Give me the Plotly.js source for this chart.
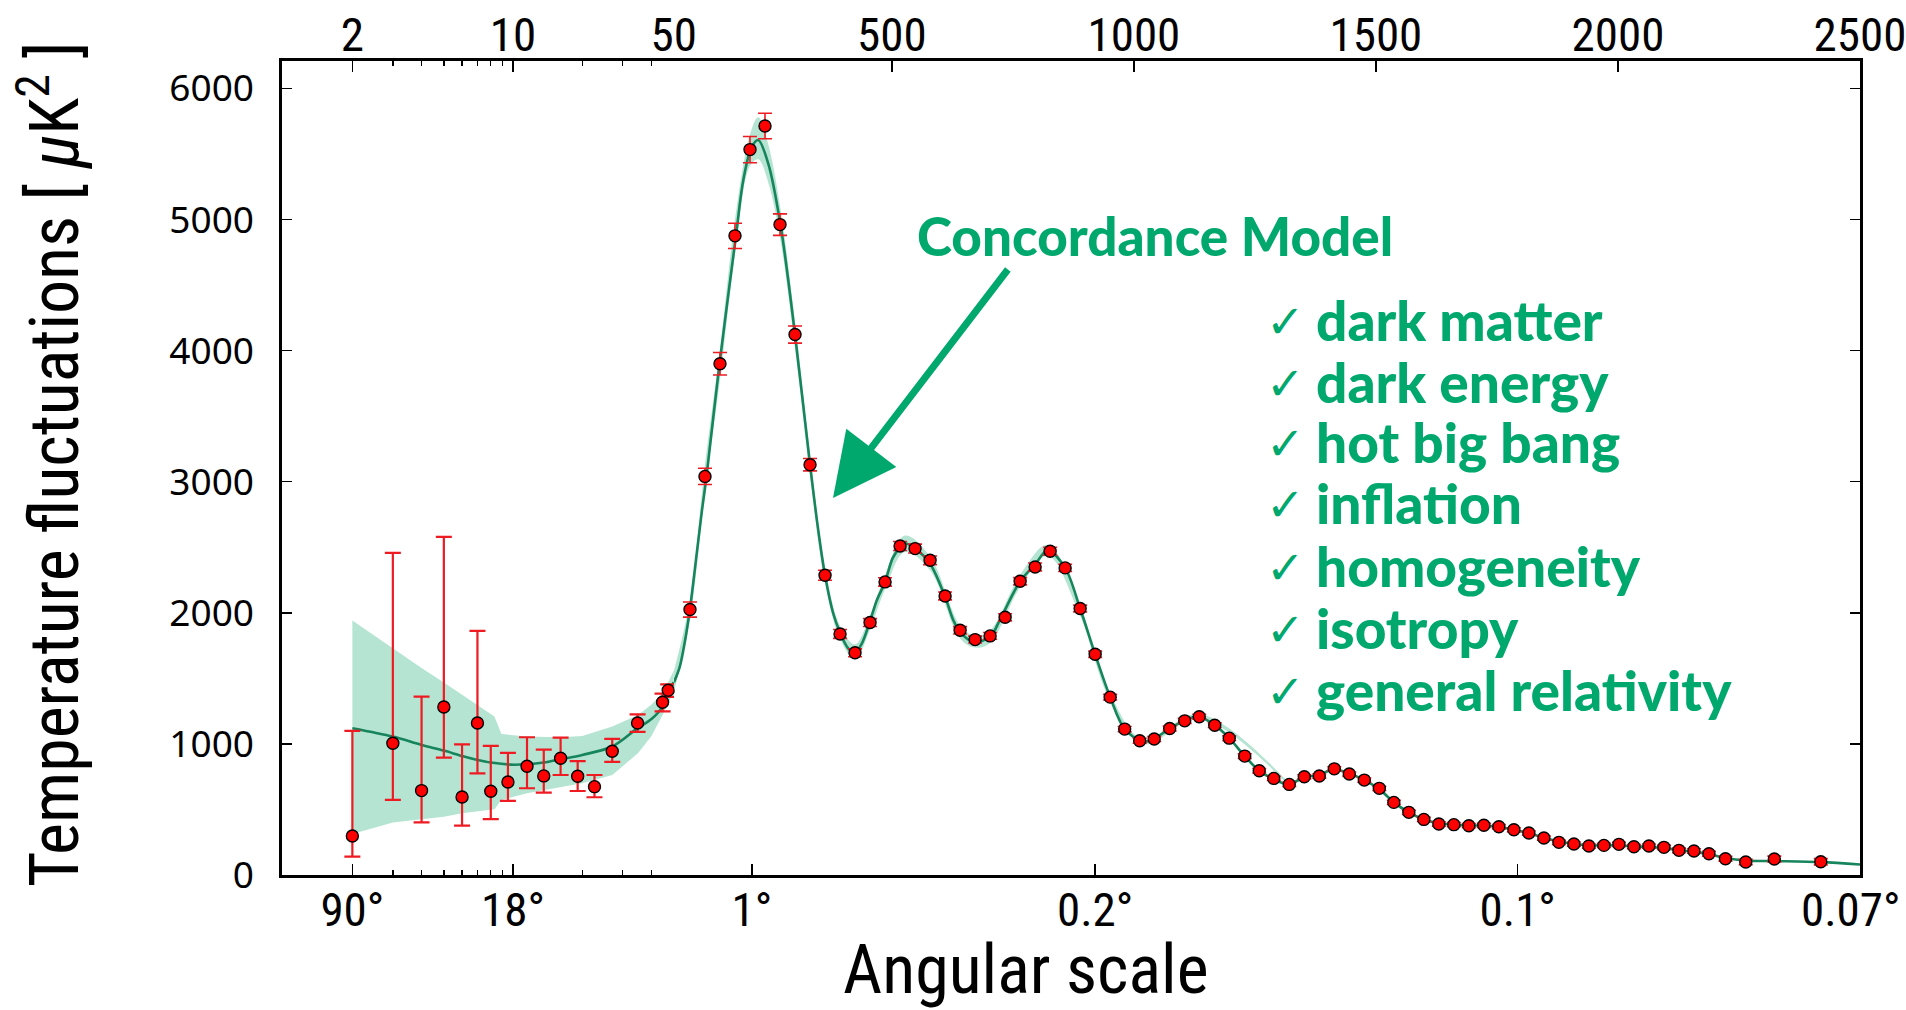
<!DOCTYPE html>
<html>
<head>
<meta charset="utf-8">
<script src="https://cdn.plot.ly/plotly-3.0.1.min.js"></script>
<style>
  html, body { margin: 0; padding: 0; background: #ffffff; }
  #chart { width: 1906px; height: 1010px; }
</style>
</head>
<body>
<div id="chart"></div>
<script>
// ---- Low multipoles (l < 50): measured D_l with asymmetric errors ----
const lowL        = [2, 3, 4, 5, 6, 7, 8, 9.5, 11.5, 13.6, 16.1, 19.1, 22.6, 27, 34.8, 44.7, 47.3];
const lowDl       = [298, 1005, 644, 1282, 595, 1160, 639, 710, 830, 756, 891, 753, 674, 944, 1160, 1318, 1410];
const lowErrUp    = [801, 1453, 717, 1298, 402, 703, 346, 221, 221, 201, 157, 115, 89, 94, 66, 66, 45];
const lowErrDown  = [158, 432, 242, 386, 218, 384, 212, 145, 168, 128, 128, 112, 81, 81, 68, 69, 51];

// ---- High multipoles (binned) ----
const highL = [83,114,145,176,207,238,269,300,331,362,
               393,424,455,486,517,548,579,610,641,672,
               703,734,765,796,827,858,889,920,951,981,
               1012,1042,1074,1105,1135,1167,1197,1229,1259,1289,
               1321,1352,1383,1414,1445,1476,1507,1537,1568,1599,
               1630,1661,1692,1723,1754,1785,1816,1847,1878,1909,
               1940,1971,2002,2033,2064,2095,2126,2157,2188,2222,
               2264,2323,2419];
const highDl = [2025,3041,3900,4876,5534,5714,4962,4123,3130,2287,
                1839,1695,1926,2236,2510,2490,2401,2129,1867,1796,
                1824,1966,2241,2350,2470,2343,2033,1684,1357,1113,
                1024,1037,1118,1176,1207,1143,1044,907,795,737,
                691,749,755,810,770,724,661,554,478,424,
                389,384,376,379,368,345,320,282,249,236,
                221,226,234,216,221,211,188,183,162,124,
                99,122,101];
const highErr = [58,62,86,96,100,97,82,65,47,38,
                 34,30,30,32,34,34,33,30,28,26,
                 26,27,28,30,30,28,26,24,22,20,
                 19,19,19,19,19,18,18,17,17,16,
                 16,16,16,16,16,16,16,16,16,16,
                 16,16,16,16,16,16,16,16,16,16,
                 16,16,16,16,16,16,17,17,18,18,
                 20,22,24];

// ---- Concordance (best-fit) model curve ----
const modelLowL  = [2, 3, 4, 5, 6, 7, 8, 9.8, 11.5, 13.6, 16.1, 20, 27, 34.8, 40, 44.7, 47.3, 50];
const modelLowDl = [1120, 1056, 992, 949, 908, 878, 858, 842, 845, 858, 883, 916, 980, 1120, 1190, 1285, 1400, 1470];
const modelHighL = [50,62,73,83,97,107,117,144,178,193,
                    210,224,245,270,300,331,348,362,379,393,
                    410,424,438,454,469,486,503,527,548,579,
                    610,627,641,668,703,723,765,796,822,858,
                    889,920,951,981,1019,1042,1074,1105,1133,1167,
                    1197,1229,1259,1289,1319,1352,1383,1412,1445,1476,
                    1507,1537,1568,1599,1630,1661,1692,1723,1754,1785,
                    1816,1847,1878,1909,1940,1971,2002,2033,2064,2095,
                    2126,2157,2188,2222,2264,2323,2419,2500];
const modelHighDl = [1470,1590,1791,2030,2454,2759,3036,3900,4876,5297,
                     5551,5607,5424,4962,4123,3130,2630,2287,1995,1850,
                     1728,1700,1766,1926,2096,2236,2426,2528,2490,2375,
                     2122,1944,1855,1778,1816,1944,2241,2370,2477,2343,
                     2033,1684,1357,1113,1016,1040,1118,1180,1209,1143,
                     1044,907,795,730,692,745,765,806,775,724,
                     655,554,478,424,395,384,378,376,366,345,
                     318,285,255,236,226,226,226,218,214,205,
                     190,176,160,130,110,106,98,80];

// ---- Cosmic-variance band around the model ----
const bandLowL  = [2, 3, 4, 5, 6, 7, 8.3, 8.9, 11.5, 16, 20, 27, 35, 40, 45, 50];
const bandLowHi = [1942, 1728, 1580, 1468, 1374, 1293, 1209, 1076, 1056, 1051, 1061, 1132, 1220, 1300, 1390, 1560];
const bandLowLo = [313, 400, 425, 445, 471, 485, 501, 572, 623, 669, 700, 763, 930, 1060, 1230, 1400];
const bandHighL  = [50,83,114,145,176,207,224,245,270,300,331,362,393,424,455,486,527,579,641,672,703,765,822,887,951,1019,1135,1320];
const bandHighHi = [1560,2100,3130,4010,5000,5650,5780,5570,5080,4220,3210,2340,1900,1760,1980,2290,2590,2430,1905,1825,1865,2290,2520,2070,1385,1035,1228,702];
const bandHighLo = [1400,1950,2930,3780,4740,5410,5460,5280,4840,4020,3050,2230,1800,1645,1875,2180,2465,2325,1805,1735,1770,2195,2435,1995,1330,998,1192,683];

// ---- Axis tick labels ----
const lTickVals    = [2, 10, 50];
const lTickText    = ['2', '10', '50'];
const lMinorVals   = [3, 4, 5, 6, 7, 8, 9, 20, 30, 40];
const linTickVals  = [500, 1000, 1500, 2000, 2500];
const linTickText  = ['500', '1000', '1500', '2000', '2500'];
const angLogVals   = [2, 10, 50];
const angLogText   = ['90°', '18°', ' '];
const angLinVals   = [211, 920, 1793, 2500];
const angLinText   = ['1°', '0.2°', '0.1°', ' '];
const angEdgeText  = '0.07°';   // label of the right-hand frame edge (l = 2500)
const yTickVals    = [0, 1000, 2000, 3000, 4000, 5000, 6000];

const checklist = ['dark matter', 'dark energy', 'hot big bang', 'inflation',
                   'homogeneity', 'isotropy', 'general relativity'];

// ---- Styling ----
const GREEN_TEXT = '#00a86d';
const GREEN_LINE = '#16855c';
const BAND = '#b5e5d2';
const RED = '#ff0000';
const ERR_RED = '#ee1b22';
const NARROW = '"Liberation Sans Narrow", "Roboto Condensed", "Arial Narrow", sans-serif';
const TEXT_BOLD = 'Lato, "Open Sans", sans-serif';
const TICK_SIZE = 47;

// plot frame in page pixels (for placing the text overlays)
const L = 282, R = 1860, T = 61, B = 875;
const px = v => (v - L) / (R - L);
const py = v => (B - v) / (B - T);
const SPLIT = px(674);

const errStyle = { type: 'data', color: ERR_RED, thickness: 2.2, width: 8, visible: true };
const markerStyle = { size: 12, color: RED, line: { color: '#000000', width: 1.4 } };

// helper: invisible copy of a series, only used so that an extra axis gets laid out
const axisHolder = (x, y, xa, ya) => ({
  x: x, y: y, xaxis: xa, yaxis: ya, mode: 'markers', marker: { opacity: 0, size: 1 },
  hoverinfo: 'skip', showlegend: false
});

const traces = [
  // band, low l (log axis)
  { x: bandLowL, y: bandLowLo, xaxis: 'x', yaxis: 'y', mode: 'lines', line: { width: 0 },
    hoverinfo: 'skip', showlegend: false },
  { x: bandLowL, y: bandLowHi, xaxis: 'x', yaxis: 'y', mode: 'lines', line: { width: 0 },
    fill: 'tonexty', fillcolor: BAND, hoverinfo: 'skip', showlegend: false },
  // band, high l (linear axis)
  { x: bandHighL, y: bandHighLo, xaxis: 'x2', yaxis: 'y', mode: 'lines',
    line: { width: 0, shape: 'spline' }, hoverinfo: 'skip', showlegend: false },
  { x: bandHighL, y: bandHighHi, xaxis: 'x2', yaxis: 'y', mode: 'lines',
    line: { width: 0, shape: 'spline' }, fill: 'tonexty', fillcolor: BAND,
    hoverinfo: 'skip', showlegend: false },
  // model curve
  { x: modelLowL, y: modelLowDl, xaxis: 'x', yaxis: 'y', mode: 'lines',
    line: { color: GREEN_LINE, width: 2.6, shape: 'spline', smoothing: 0.9 }, showlegend: false },
  { x: modelHighL, y: modelHighDl, xaxis: 'x2', yaxis: 'y', mode: 'lines',
    line: { color: GREEN_LINE, width: 2.6, shape: 'spline', smoothing: 0.9 }, showlegend: false },
  // measurements
  { x: lowL, y: lowDl, xaxis: 'x', yaxis: 'y', mode: 'markers', marker: markerStyle,
    error_y: Object.assign({ symmetric: false, array: lowErrUp, arrayminus: lowErrDown }, errStyle),
    cliponaxis: false, showlegend: false },
  { x: highL, y: highDl, xaxis: 'x2', yaxis: 'y', mode: 'markers', marker: markerStyle,
    error_y: Object.assign({ array: highErr }, errStyle, { width: 7, thickness: 1.6 }),
    cliponaxis: false, showlegend: false },
  // top multipole axes and right frame axis
  axisHolder(lowL, lowDl, 'x3', 'y'),
  axisHolder(highL, highDl, 'x4', 'y'),
  axisHolder(highL, highDl, 'x2', 'y2')
];

const frameAxis = {
  showline: true, linecolor: '#000000', linewidth: 2.6,
  showgrid: false, zeroline: false,
  ticks: 'inside', ticklen: 11, tickwidth: 1.4, tickcolor: '#000000',
  tickmode: 'array', ticklabeloverflow: 'allow',
  tickfont: { family: NARROW, size: TICK_SIZE, color: '#000000' }
};

const layout = {
  width: 1906, height: 1010,
  paper_bgcolor: '#ffffff', plot_bgcolor: '#ffffff',
  margin: { l: L, r: 1906 - R, t: T, b: 1010 - B },
  showlegend: false,
  xaxis: Object.assign({}, frameAxis, {
    type: 'log', domain: [0, SPLIT], range: [-0.005, 1.7], anchor: 'y', mirror: true,
    tickvals: angLogVals, ticktext: angLogText, ticklabelstandoff: -8,
    minor: { tickmode: 'array', tickvals: lMinorVals, ticks: 'inside', ticklen: 5,
             tickwidth: 1.4, tickcolor: '#000000', showgrid: false }
  }),
  xaxis2: Object.assign({}, frameAxis, {
    type: 'linear', domain: [SPLIT, 1], range: [50, 2500], anchor: 'y', mirror: true,
    tickvals: angLinVals, ticktext: angLinText, ticklabelstandoff: -8
  }),
  xaxis3: Object.assign({}, frameAxis, {
    type: 'log', overlaying: 'x', side: 'top', range: [-0.005, 1.7], anchor: 'y',
    showline: false, tickvals: lTickVals, ticktext: lTickText, ticklabelstandoff: 0,
    minor: { tickmode: 'array', tickvals: lMinorVals, ticks: 'inside', ticklen: 5,
             tickwidth: 1.4, tickcolor: '#000000', showgrid: false }
  }),
  xaxis4: Object.assign({}, frameAxis, {
    type: 'linear', overlaying: 'x2', side: 'top', range: [50, 2500], anchor: 'y',
    showline: false, tickvals: linTickVals, ticktext: linTickText, ticklabelstandoff: 0
  }),
  yaxis: Object.assign({}, frameAxis, {
    range: [0, 6210], domain: [0, 1], anchor: 'x', ticklen: 10,
    tickvals: yTickVals, ticklabelstandoff: 18,
    tickfont: { family: '"Noto Sans", "DejaVu Sans", sans-serif', size: 37, color: '#000000' }
  }),
  yaxis2: Object.assign({}, frameAxis, {
    range: [0, 6210], overlaying: 'y', anchor: 'x2', side: 'right', ticklen: 10,
    tickvals: yTickVals, showticklabels: false
  }),
  annotations: []
};

// edge label of the angular axis, kept inside the page
layout.annotations.push({
  xref: 'paper', yref: 'paper', x: px(1903), y: py(909), xanchor: 'right', yanchor: 'middle',
  text: angEdgeText, showarrow: false,
  font: { family: NARROW, size: TICK_SIZE, color: '#000000' }
});

// axis titles
layout.annotations.push({
  xref: 'paper', yref: 'paper', x: px(1026), y: py(970), xanchor: 'center', yanchor: 'middle',
  text: 'Angular scale', showarrow: false,
  font: { family: NARROW, size: 68, color: '#000000' }
});
layout.annotations.push({
  xref: 'paper', yref: 'paper', x: px(50), y: py(465), xanchor: 'center', yanchor: 'middle',
  textangle: -90, text: 'Temperature fluctuations [ <i>μ</i>K<sup>2</sup> ]', showarrow: false,
  font: { family: NARROW, size: 68, color: '#000000' }
});

// "Concordance Model" label with arrow onto the curve
layout.annotations.push({
  xref: 'paper', yref: 'paper', x: px(915), y: py(235), xanchor: 'left', yanchor: 'middle',
  text: 'Concordance Model', showarrow: false,
  font: { family: TEXT_BOLD, size: 53, color: GREEN_TEXT, weight: 900 }
});
layout.annotations.push({
  xref: 'paper', yref: 'paper', x: px(833), y: py(498), text: '',
  showarrow: true, arrowhead: 2, arrowsize: 1.8, arrowwidth: 7, arrowcolor: GREEN_TEXT,
  axref: 'pixel', ayref: 'pixel', ax: 176, ay: -230, standoff: 0
});

// check list
const rowY = [320, 382, 442, 503, 566, 628, 690];
checklist.forEach((item, i) => {
  layout.annotations.push({
    xref: 'paper', yref: 'paper', x: px(1264), y: py(rowY[i] + 2), xanchor: 'left', yanchor: 'middle',
    text: '✓', showarrow: false,
    font: { family: '"DejaVu Sans", sans-serif', size: 46, color: GREEN_TEXT, weight: 700 }
  });
  layout.annotations.push({
    xref: 'paper', yref: 'paper', x: px(1314), y: py(rowY[i]), xanchor: 'left', yanchor: 'middle',
    text: item, showarrow: false,
    font: { family: TEXT_BOLD, size: 55, color: GREEN_TEXT, weight: 900 }
  });
});

Plotly.newPlot('chart', traces, layout, { displayModeBar: false, staticPlot: true });
</script>
</body>
</html>
